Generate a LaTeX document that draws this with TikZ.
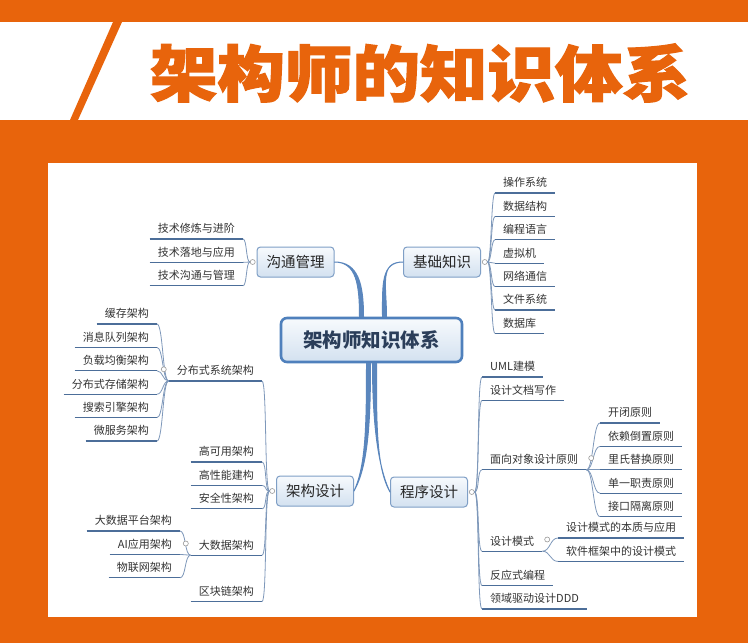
\documentclass[tikz,border=0pt]{standalone}
\usepackage{fontspec}
\usepackage{xcolor}
\usepackage{tikz}
\usetikzlibrary{positioning}

\newfontfamily\cjk{Noto Sans CJK SC}
\newfontfamily\cjktitle[BoldFeatures={FakeBold=2}]{Noto Sans CJK SC}

\definecolor{brandorange}{HTML}{E8640C}
\definecolor{trunkblue}{HTML}{5A86BD}
\definecolor{barblue}{HTML}{4C6E99}
\definecolor{twigblue}{HTML}{7E98BA}
\definecolor{rootline}{HTML}{4F80BC}
\definecolor{topicline}{HTML}{7F9FC6}
\definecolor{boxtop}{HTML}{F7FAFD}
\definecolor{boxbottom}{HTML}{D3E1F0}
\definecolor{roottext}{HTML}{2B3E5A}

\begin{document}
\begin{tikzpicture}[x = 1pt, y = -1pt, node distance = 0pt]
    \tikzstyle{leaf} = [font=\cjk\fontsize{11}{13}\selectfont, text=black!80, inner xsep=8pt, inner ysep=0pt, text height=17pt, text depth=6pt,
        append after command={(\tikzlastnode.south west) edge[draw=barblue, line width=1.3pt] (\tikzlastnode.south east)}]
    \tikzstyle{topic} = [font=\cjk\fontsize{14.5}{16}\selectfont, text=black!85, draw=topicline, line width=1pt, rounded corners=3.5pt,
        top color=boxtop, bottom color=boxbottom, inner xsep=9.5pt, minimum height=30pt]
    \tikzstyle{root} = [font=\cjk\bfseries\fontsize{19.5}{22}\selectfont, text=roottext, draw=rootline, line width=2.6pt, rounded corners=6pt,
        top color=boxtop, bottom color=boxbottom, minimum width=181pt, minimum height=44pt]
    \tikzstyle{dot} = [circle, draw=black!40, fill=white, line width=0.6pt, minimum size=5pt, inner sep=0pt]
    \tikzstyle{twig} = [draw=twigblue, line width=0.8pt]
    \tikzstyle{trunk} = [fill=trunkblue, draw=trunkblue, line width=1pt, line join=round]

    \useasboundingbox (0,0) rectangle (748,643);

    % frame and title
    \fill[brandorange] (0,0) rectangle (748,643);
    \fill[white] (0,22) rectangle (748,120);
    \fill[brandorange] (113,22) -- (122,22) -- (78,120) -- (70,120) -- cycle;
    \fill[white] (48,163) rectangle (697,617);
    \begin{scope}[shift={(420,73)}, xscale=1.107]
        \node[font=\cjktitle\bfseries\fontsize{61}{61}\selectfont, text=brandorange, inner sep=0pt, transform shape] (title) {架构师的知识体系};
    \end{scope}

    % main topics
    \node[root] (root) at (371.5,340) {架构师知识体系};
    \node[topic] (gt) at (295.5,262) {沟通管理};
    \node[topic] (jc) at (442,262) {基础知识};
    \node[topic] (jg) at (315,491) {架构设计};
    \node[topic] (cx) at (429,492) {程序设计};

    \node[dot, left = 1pt of gt] (gtm) {};
    \node[dot, right = 1pt of jc] (jcm) {};
    \node[dot, left = 1pt of jg] (jgm) {};
    \node[dot, right = 1pt of cx] (cxm) {};

    \draw[trunk] ([xshift=-12pt]root.north) .. controls +(0,-32) and +(22,0) .. (gt.east)
        .. controls +(24,0) and +(0,-32) .. ([xshift=-8pt]root.north) -- cycle;
    \draw[trunk] ([xshift=11pt]root.north) .. controls +(0,-32) and +(-22,0) .. (jc.west)
        .. controls +(-24,0) and +(0,-32) .. ([xshift=15pt]root.north) -- cycle;
    \draw[trunk] ([xshift=-5pt]root.south) .. controls +(0,60) and +(12,-25) .. (jg.east)
        .. controls +(14,-25) and +(0,60) .. ([xshift=-1pt]root.south) -- cycle;
    \draw[trunk] ([xshift=1pt]root.south) .. controls +(0,60) and +(-12,-25) .. (cx.west)
        .. controls +(-14,-25) and +(0,60) .. ([xshift=5pt]root.south) -- cycle;

    % 沟通管理
    \node[leaf, anchor=south east] (g1) at (243,239) {技术修炼与进阶};
    \node[leaf, below = of g1.south east, anchor=north east] (g2) {技术落地与应用};
    \node[leaf, below = of g2.south east, anchor=north east] (g3) {技术沟通与管理};

    % 基础知识
    \node[leaf, anchor=south west] (j1) at (495,193) {操作系统};
    \node[leaf, below = of j1.south west, anchor=north west] (j2) {数据结构};
    \node[leaf, below = of j2.south west, anchor=north west] (j3) {编程语言};
    \node[leaf, below = of j3.south west, anchor=north west] (j4) {虚拟机};
    \node[leaf, below = of j4.south west, anchor=north west] (j5) {网络通信};
    \node[leaf, below = of j5.south west, anchor=north west] (j6) {文件系统};
    \node[leaf, below = of j6.south west, anchor=north west] (j7) {数据库};

    % 架构设计
    \node[leaf, anchor=south east] (a1) at (262,381) {分布式系统架构};
    \node[leaf, anchor=south east] (a2) at (262,462) {高可用架构};
    \node[leaf, below = of a2.south east, anchor=north east] (a3) {高性能建构};
    \node[leaf, below = of a3.south east, anchor=north east] (a4) {安全性架构};
    \node[leaf, below = 23pt of a4.south east, anchor=north east] (a5) {大数据架构};
    \node[leaf, below = 23pt of a5.south east, anchor=north east] (a6) {区块链架构};

    \node[leaf, anchor=south east] (f1) at (157,324) {缓存架构};
    \node[leaf, below = of f1.south east, anchor=north east] (f2) {消息队列架构};
    \node[leaf, below = of f2.south east, anchor=north east] (f3) {负载均衡架构};
    \node[leaf, below = of f3.south east, anchor=north east] (f4) {分布式存储架构};
    \node[leaf, below = of f4.south east, anchor=north east] (f5) {搜索引擎架构};
    \node[leaf, below = of f5.south east, anchor=north east] (f6) {微服务架构};

    \node[leaf, anchor=south east] (d1) at (180,531) {大数据平台架构};
    \node[leaf, below = of d1.south east, anchor=north east] (d2) {AI应用架构};
    \node[leaf, below = of d2.south east, anchor=north east] (d3) {物联网架构};

    % 程序设计
    \node[leaf, anchor=south west] (c1) at (482,377) {UML建模};
    \node[leaf, below = of c1.south west, anchor=north west] (c2) {设计文档写作};
    \node[leaf, below = 46pt of c2.south west, anchor=north west] (c3) {面向对象设计原则};
    \node[leaf, below = 58pt of c3.south west, anchor=north west] (c4) {设计模式};
    \node[leaf, below = 11pt of c4.south west, anchor=north west] (c5) {反应式编程};
    \node[leaf, below = of c5.south west, anchor=north west] (c6) {领域驱动设计DDD};

    \node[leaf, anchor=south west] (m1) at (600,423) {开闭原则};
    \node[leaf, below = of m1.south west, anchor=north west] (m2) {依赖倒置原则};
    \node[leaf, below = of m2.south west, anchor=north west] (m3) {里氏替换原则};
    \node[leaf, below = of m3.south west, anchor=north west] (m4) {单一职责原则};
    \node[leaf, below = of m4.south west, anchor=north west] (m5) {接口隔离原则};

    \node[leaf, anchor=south west] (s1) at (558,538) {设计模式的本质与应用};
    \node[leaf, below = of s1.south west, anchor=north west] (s2) {软件框架中的设计模式};

    % branches
    \foreach \i in {1,...,3}
        \draw[twig] (gtm.west) .. controls +(-4,0) and +(4,0) .. (g\i.south east);
    \foreach \i in {1,...,7}
        \draw[twig] (jcm.east) .. controls +(4,0) and +(-4,0) .. (j\i.south west);
    \foreach \i in {1,...,6}
        \draw[twig] (jgm.west) .. controls +(-5,0) and +(5,0) .. (a\i.south east);
    \foreach \i in {1,...,6}
        \draw[twig] (a1.south west) .. controls +(-6,0) and +(6,0) .. (f\i.south east);
    \foreach \i in {1,...,3}
        \draw[twig] (a5.south west) .. controls +(-6,0) and +(6,0) .. (d\i.south east);
    \foreach \i in {1,...,6}
        \draw[twig] (cxm.east) .. controls +(5,0) and +(-5,0) .. (c\i.south west);
    \foreach \i in {1,...,5}
        \draw[twig] (c3.south east) .. controls +(7,0) and +(-7,0) .. (m\i.south west);
    \foreach \i in {1,2}
        \draw[twig] (c4.south east) .. controls +(8,0) and +(-8,0) .. (s\i.south west);

    \node[dot, left = 2pt of a1.west] (a1m) {};
    \node[dot, left = 2pt of a5.west] (a5m) {};
    \node[dot, right = 2pt of c3.east] (c3m) {};
    \node[dot, right = 2pt of c4.east] (c4m) {};
\end{tikzpicture}
\end{document}
